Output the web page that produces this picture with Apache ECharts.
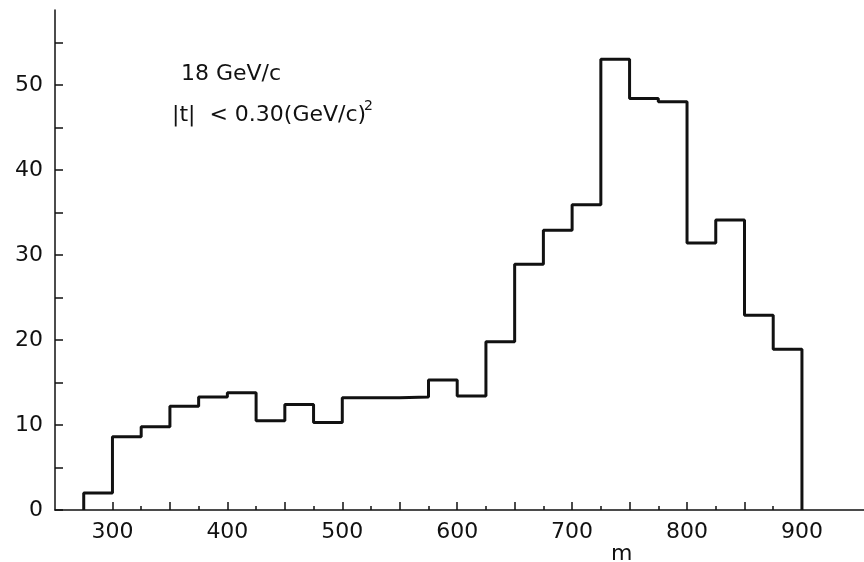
<!DOCTYPE html>
<html>
<head>
<meta charset="utf-8">
<script src="https://cdn.jsdelivr.net/npm/echarts@6/dist/echarts.min.js"></script>
<style>
    html, body { margin: 0; padding: 0; background: #fff; }
    #main { width: 864px; height: 562px; }
</style>
</head>
<body>
<div id="main"></div>
<script>
// lower edge of each mass bin (MeV), bins are 25 wide
var binLow = [275, 300, 325, 350, 375, 400, 425, 450, 475, 500, 525, 550, 575,
              600, 625, 650, 675, 700, 725, 750, 775, 800, 825, 850, 875];
var binWidth = 25;
// events per bin
var counts = [2.0, 8.6, 9.8, 12.2, 13.3, 13.8, 10.5, 12.4, 10.3, 13.2, 13.2, 13.3, 15.3,
              13.4, 19.8, 28.9, 32.9, 35.9, 53.0, 48.4, 48.0, 31.4, 34.1, 22.9, 18.9];

var xLabels = [300, 400, 500, 600, 700, 800, 900];
var xMajorTicks = [300, 350, 400, 450, 500, 550, 600, 650, 700, 750, 800, 850, 900];
var xMinorTicks = [275, 325, 375, 425, 475, 525, 575, 625, 675, 725, 775, 825, 875];
var yLabels = [0, 10, 20, 30, 40, 50];
var yTicks = [0, 5, 10, 15, 20, 25, 30, 35, 40, 45, 50, 55];

var font = 'DejaVu Sans';

// outline of the histogram: up at first edge, steps, down at last edge
var outline = [[binLow[0], 0]];
binLow.forEach(function (x, i) {
    outline.push([x, counts[i]]);
});
var lastEdge = binLow[binLow.length - 1] + binWidth;
outline.push([lastEdge, counts[counts.length - 1]]);
outline.push([lastEdge, 0]);

var chart = echarts.init(document.getElementById('main'));

var option = {
    backgroundColor: '#fff',
    animation: false,
    grid: { left: 55, right: 0, top: 10, bottom: 52, containLabel: false },
    xAxis: [
        {
            type: 'value', min: 250, max: 954,
            splitLine: { show: false },
            axisLine: { lineStyle: { color: '#111', width: 1.5 } },
            axisTick: { inside: true, length: 8, customValues: xMajorTicks, lineStyle: { color: '#111', width: 1.5 } },
            axisLabel: { customValues: xLabels, margin: 11, color: '#111', fontFamily: font, fontSize: 22 }
        },
        {
            type: 'value', min: 250, max: 954, position: 'bottom',
            splitLine: { show: false },
            axisLine: { show: false },
            axisTick: { inside: true, length: 4, customValues: xMinorTicks, lineStyle: { color: '#111', width: 1.5 } },
            axisLabel: { show: false }
        }
    ],
    yAxis: {
        type: 'value', min: 0, max: 58.8,
        splitLine: { show: false },
        axisLine: { show: true, lineStyle: { color: '#111', width: 1.5 } },
        axisTick: { show: true, inside: true, length: 8, customValues: yTicks, lineStyle: { color: '#111', width: 1.5 } },
        axisLabel: { customValues: yLabels, margin: 12, color: '#111', fontFamily: font, fontSize: 22 }
    },
    graphic: [
        { type: 'text', left: 181, top: 63,
          style: { text: '18 GeV/c', font: '22px "DejaVu Sans"', fill: '#111' } },
        { type: 'text', left: 172, top: 104,
          style: { text: '|t|  < 0.30(GeV/c)', font: '22px "DejaVu Sans"', fill: '#111' } },
        { type: 'text', left: 364, top: 99,
          style: { text: '2', font: '14px "DejaVu Sans"', fill: '#111' } },
        { type: 'text', left: 611, top: 543,
          style: { text: 'm', font: '22px "DejaVu Sans"', fill: '#111' } }
    ],
    series: [
        {
            type: 'line',
            xAxisIndex: 0,
            step: 'end',
            symbol: 'none',
            data: outline,
            lineStyle: { color: '#111', width: 3 }
        }
    ]
};

chart.setOption(option);
</script>
</body>
</html>
